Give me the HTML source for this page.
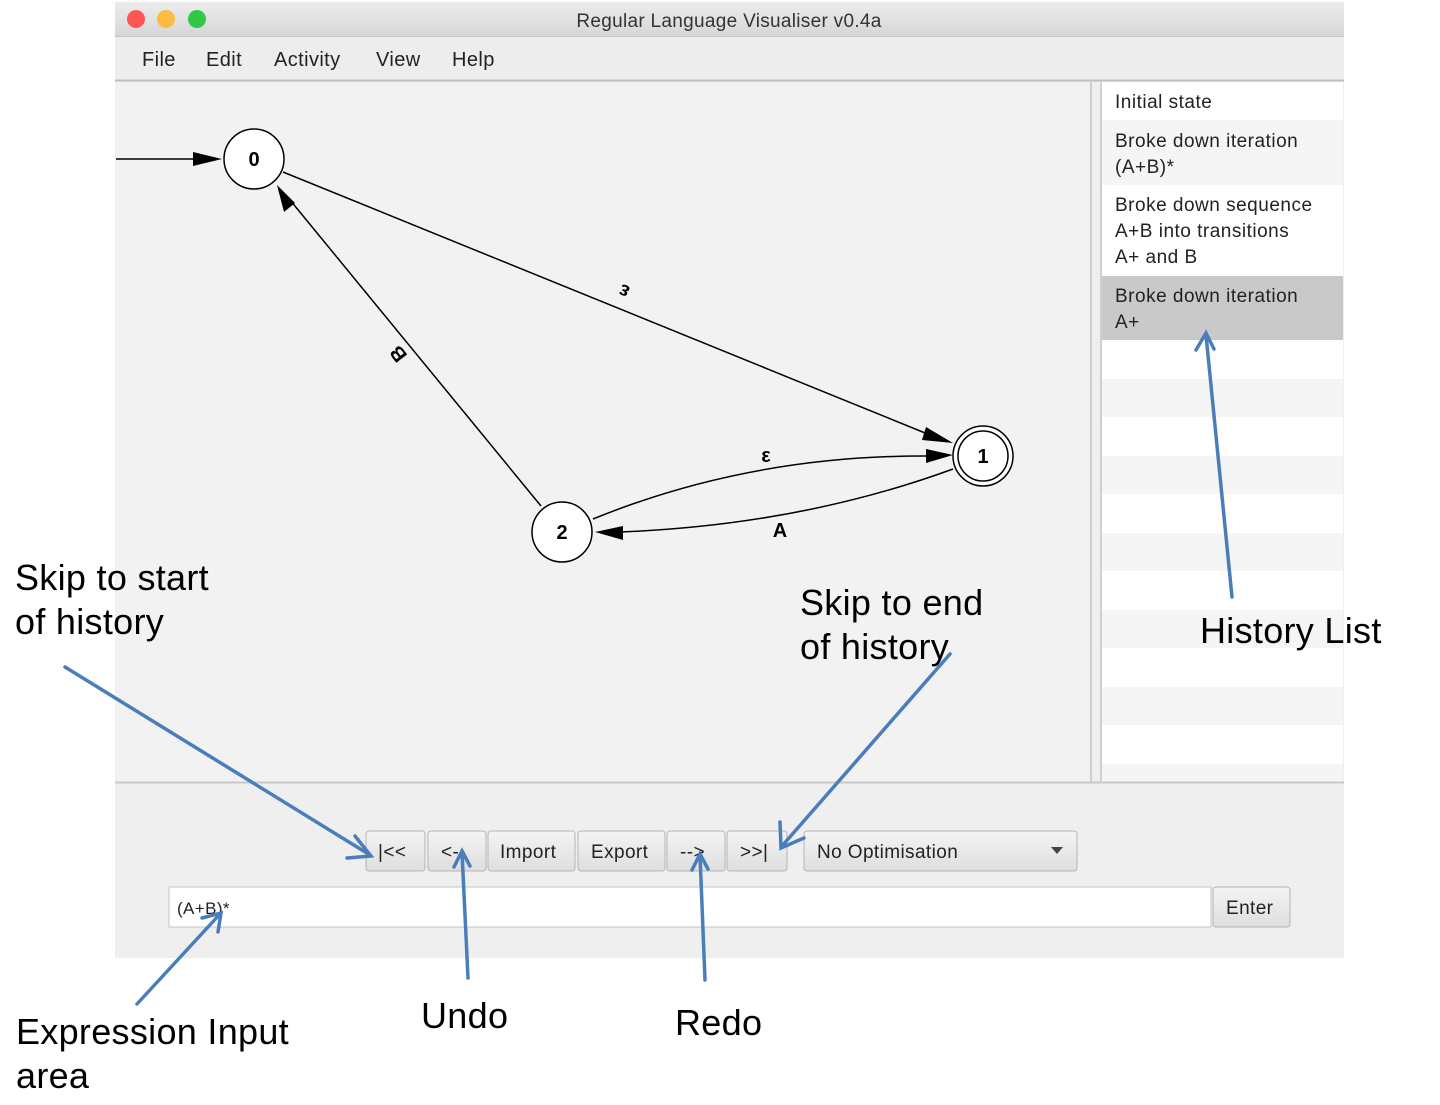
<!DOCTYPE html>
<html><head><meta charset="utf-8"><style>
body{margin:0;width:1440px;height:1105px;background:#fff;overflow:hidden}
svg{position:absolute;left:0;top:0}
text{font-family:"Liberation Sans",sans-serif}
</style></head><body>
<svg width="1440" height="1105" viewBox="0 0 1440 1105">
<defs>
<linearGradient id="tb" x1="0" y1="0" x2="0" y2="1"><stop offset="0" stop-color="#ececec"/><stop offset="1" stop-color="#d6d6d6"/></linearGradient>
<linearGradient id="bt" x1="0" y1="0" x2="0" y2="1"><stop offset="0" stop-color="#f4f4f4"/><stop offset="1" stop-color="#dedede"/></linearGradient>
</defs>
<rect x="115" y="2" width="1229" height="956" fill="#efefef"/>
<rect x="115" y="2" width="1229" height="35" fill="url(#tb)"/>
<line x1="115" y1="36.5" x2="1344" y2="36.5" stroke="#c4c4c4"/>
<circle cx="136" cy="19" r="9" fill="#fc5753"/><circle cx="166" cy="19" r="9" fill="#fdbc40"/><circle cx="197" cy="19" r="9" fill="#33c748"/>
<text x="729" y="27" text-anchor="middle" font-size="19" fill="#333" letter-spacing="0.3">Regular Language Visualiser v0.4a</text>
<rect x="115" y="37" width="1229" height="44" fill="#ededed"/>
<line x1="115" y1="80.5" x2="1344" y2="80.5" stroke="#bdbdbd" stroke-width="2"/>
<g font-size="20" fill="#222" letter-spacing="0.4"><text x="142" y="66">File</text><text x="206" y="66">Edit</text><text x="274" y="66">Activity</text><text x="376" y="66">View</text><text x="452" y="66">Help</text></g>
<rect x="116" y="82" width="974" height="700" fill="#f2f2f2"/>
<line x1="1091" y1="82" x2="1091" y2="782" stroke="#cfcfcf" stroke-width="2"/>
<line x1="1101" y1="82" x2="1101" y2="782" stroke="#cfcfcf" stroke-width="2"/>
<rect x="1102" y="82" width="241" height="700" fill="#fff"/>
<rect x="1102" y="120" width="241" height="65" fill="#f5f5f5"/>
<rect x="1102" y="276" width="241" height="64" fill="#c9c9c9"/>
<g fill="#f5f5f5"><rect x="1102" y="379" width="241" height="38"/><rect x="1102" y="456" width="241" height="38"/><rect x="1102" y="533" width="241" height="38"/><rect x="1102" y="610" width="241" height="38"/><rect x="1102" y="687" width="241" height="38"/><rect x="1102" y="764" width="241" height="18"/></g>
<g font-size="19" fill="#222" letter-spacing="0.5"><text x="1115" y="108">Initial state</text><text x="1115" y="147">Broke down iteration</text><text x="1115" y="173">(A+B)*</text><text x="1115" y="211">Broke down sequence</text><text x="1115" y="237">A+B into transitions</text><text x="1115" y="263">A+ and B</text><text x="1115" y="302">Broke down iteration</text><text x="1115" y="328">A+</text></g>
<line x1="115" y1="782.5" x2="1344" y2="782.5" stroke="#c8c8c8" stroke-width="2"/>
<g stroke="#000" stroke-width="1.5" fill="none">
<line x1="116" y1="159" x2="200" y2="159"/>
<line x1="283" y1="172" x2="930" y2="435"/>
<line x1="541" y1="506" x2="290" y2="200"/>
<path d="M593,519 Q750,455 928,456"/>
<path d="M953,469 Q800,525 620,532"/>
</g>
<g fill="#000">
<polygon points="222,159 193,152 193,166"/>
<polygon points="953,443 926,427 922,440"/>
<polygon points="277,185 284,212 295,203"/>
<polygon points="953,455 926,449 926,463"/>
<polygon points="595,532 623,526 623,540"/>
</g>
<g fill="#fff" stroke="#000" stroke-width="1.5"><circle cx="254" cy="159" r="30"/><circle cx="562" cy="532" r="30"/><circle cx="983" cy="456" r="30"/><circle cx="983" cy="456" r="25"/></g>
<g font-size="20" font-weight="bold" text-anchor="middle" fill="#000"><text x="254" y="166" font-family="Liberation Mono,monospace">0</text><text x="562" y="539" font-family="Liberation Mono,monospace">2</text><text x="983" y="463" font-family="Liberation Mono,monospace">1</text></g>
<g font-size="20" fill="#000" text-anchor="middle" font-weight="bold">
<text x="624" y="299" transform="rotate(202 624 292)">ε</text>
<text x="398" y="361" transform="rotate(232 398 354)">B</text>
<text x="766" y="462">ε</text>
<text x="780" y="537">A</text>
</g>
<g stroke="#b5b5b5" fill="url(#bt)">
<rect x="366" y="831" width="59" height="40" rx="3"/><rect x="428" y="831" width="58" height="40" rx="3"/><rect x="488" y="831" width="87" height="40" rx="3"/><rect x="578" y="831" width="87" height="40" rx="3"/><rect x="667" y="831" width="58" height="40" rx="3"/><rect x="727" y="831" width="60" height="40" rx="3"/><rect x="804" y="831" width="273" height="40" rx="3"/><rect x="1213" y="887" width="77" height="40" rx="3"/>
</g>
<rect x="169" y="887" width="1042" height="40" fill="#fff" stroke="#c4c4c4"/>
<g font-size="19" fill="#222" letter-spacing="0.4"><text x="378" y="858">|&lt;&lt;</text><text x="441" y="858">&lt;--</text><text x="500" y="858">Import</text><text x="591" y="858">Export</text><text x="680" y="858">--&gt;</text><text x="740" y="858">&gt;&gt;|</text><text x="817" y="858">No Optimisation</text><text x="1226" y="914">Enter</text><text x="177" y="914" font-size="17">(A+B)*</text></g>
<polygon points="1051,847 1063,847 1057,854" fill="#444"/>
<g font-size="36" fill="#000" letter-spacing="0.3"><text x="15" y="590">Skip to start</text><text x="15" y="634">of history</text><text x="800" y="615">Skip to end</text><text x="800" y="659">of history</text><text x="1200" y="643">History List</text><text x="16" y="1044">Expression Input</text><text x="16" y="1088">area</text><text x="421" y="1028">Undo</text><text x="675" y="1035">Redo</text></g>
<g stroke="#4a7ebb" stroke-width="3.5" fill="none" stroke-linecap="round">
<line x1="65" y1="667" x2="370" y2="855"/><polyline points="355,836 371,856 347,858"/>
<line x1="950" y1="654" x2="782" y2="846"/><polyline points="780,822 781,848 804,838"/>
<line x1="1232" y1="597" x2="1206" y2="335"/><polyline points="1196,350 1206,333 1214,349"/>
<line x1="468" y1="978" x2="462" y2="852"/><polyline points="454,867 462,851 470,866"/>
<line x1="705" y1="980" x2="700" y2="855"/><polyline points="692,870 700,854 708,869"/>
<line x1="137" y1="1004" x2="220" y2="914"/><polyline points="202,918 221,913 218,932"/>
</g>
</svg>
</body></html>
